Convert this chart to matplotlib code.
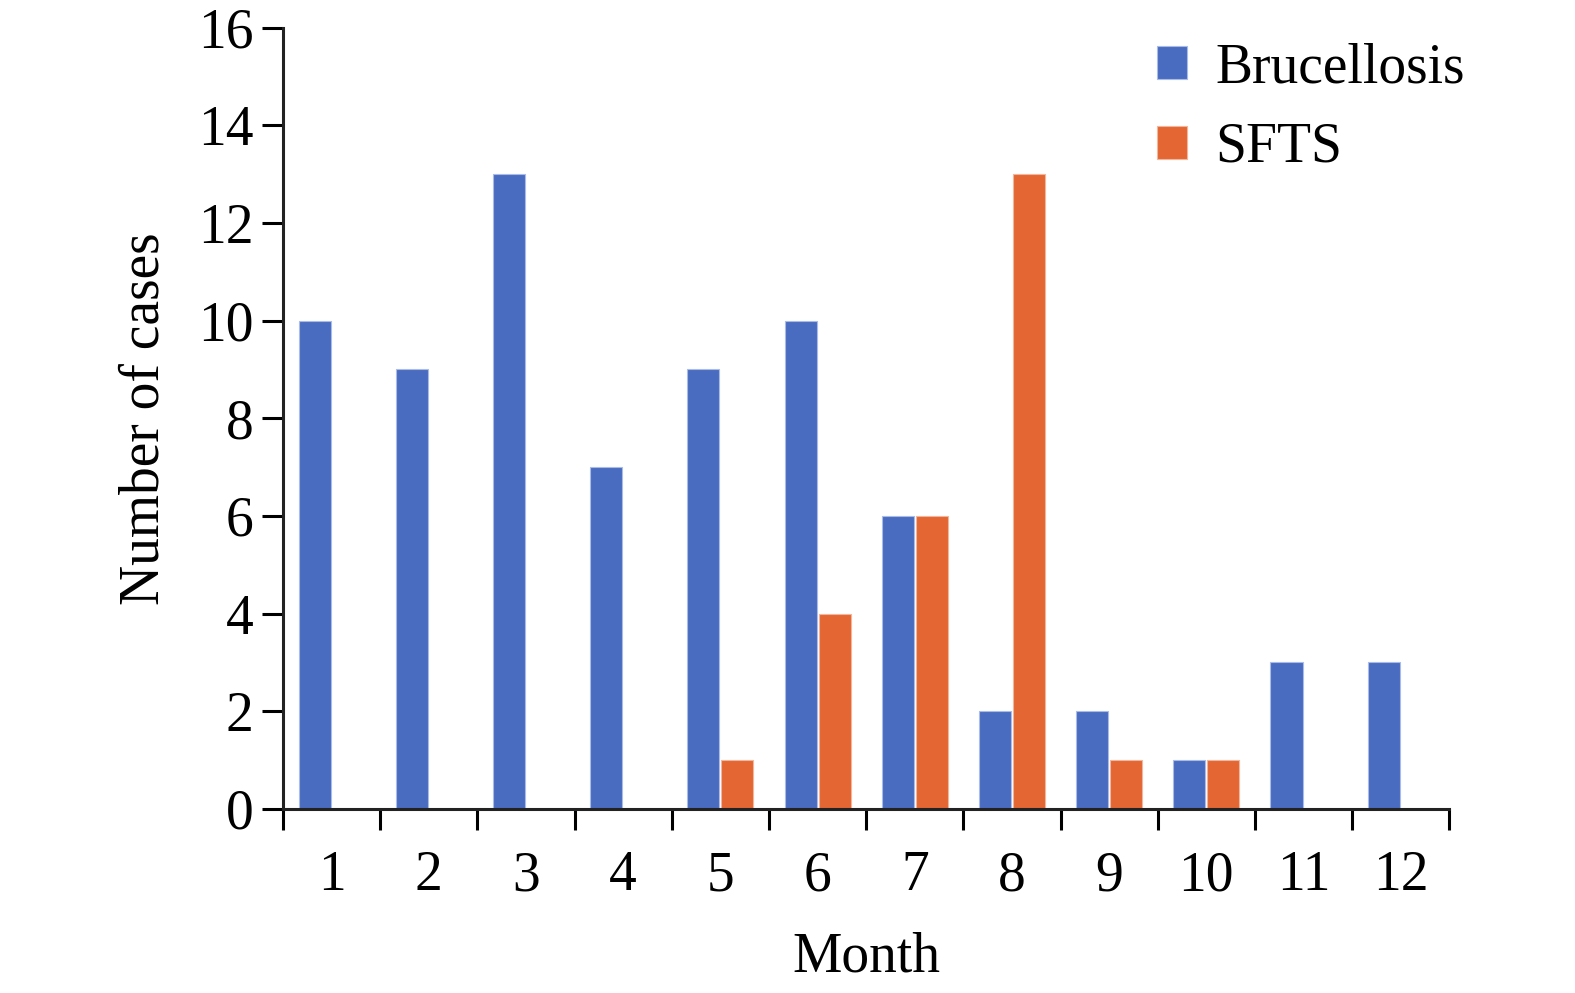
import numpy as np
import matplotlib.pyplot as plt

months = ['1', '2', '3', '4', '5', '6', '7', '8', '9', '10', '11', '12']
brucellosis = [10, 9, 13, 7, 9, 10, 6, 2, 2, 1, 3, 3]
sfts = [0, 0, 0, 0, 1, 4, 6, 13, 1, 1, 0, 0]

plt.rcParams['font.family'] = ['Liberation Serif', 'DejaVu Serif']
fs = 40

fig = plt.figure(figsize=(15.75, 9.93), dpi=100)
ax = fig.add_axes([0.1797, 0.1855, 0.7405, 0.7865])

x = np.arange(len(months))
w = 0.33
ax.bar(x - w / 2 - 0.01, brucellosis, w, color='#4A6CC0', edgecolor='#A9BCE8',
       linewidth=0.8, label='Brucellosis')
s = np.array(sfts, dtype=float)
mask = s > 0
ax.bar(x[mask] + w / 2 + 0.01, s[mask], w, color='#E36633', edgecolor='#F2B69A',
       linewidth=0.8, label='SFTS')

ax.set_xlim(-0.5, 11.5)
ax.set_ylim(0, 16)
ax.set_yticks(range(0, 17, 2))
ax.set_xticks(x)
ax.set_xticklabels(months)
ax.set_xticks(np.arange(-0.5, 12, 1), minor=True)
ax.tick_params(axis='x', which='major', length=0, pad=30, labelsize=fs)
ax.tick_params(axis='x', which='minor', length=15, width=2.2, direction='out')
ax.tick_params(axis='y', length=15, width=2.2, direction='out', pad=6, labelsize=fs)

for side in ['top', 'right']:
    ax.spines[side].set_visible(False)
for side in ['left', 'bottom']:
    ax.spines[side].set_linewidth(2.2)
    ax.spines[side].set_color('#222222')

ax.set_xlabel('Month', fontsize=fs, labelpad=21)
ax.set_ylabel('Number of cases', fontsize=fs, labelpad=20)

ax.legend(loc='upper left', bbox_to_anchor=(0.73, 1.01), frameon=False,
          fontsize=fs, handlelength=0.55, handleheight=0.55,
          handletextpad=0.5, labelspacing=0.5, borderaxespad=0)

fig.savefig('out.png', dpi=100)
